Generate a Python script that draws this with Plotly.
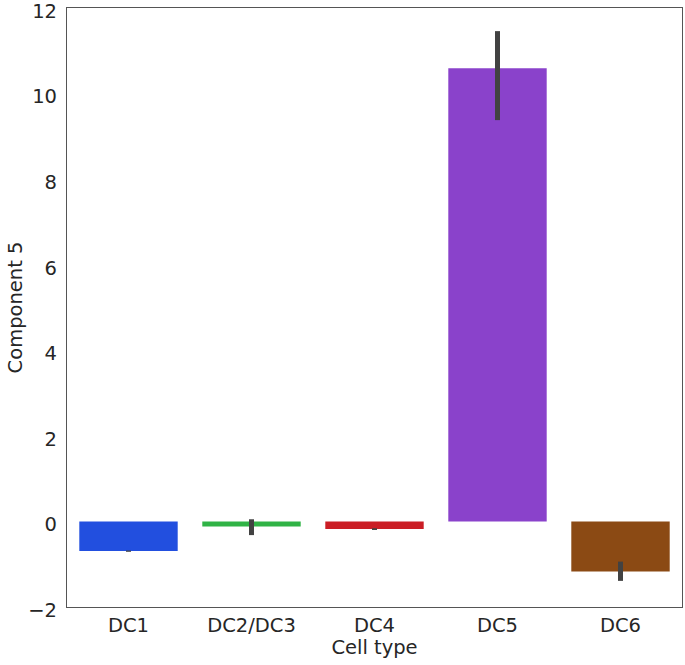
import plotly.graph_objects as go

categories = ["DC1", "DC2/DC3", "DC4", "DC5", "DC6"]
values = [-0.69, -0.12, -0.18, 10.59, -1.17]
ci_low = [-0.71, -0.32, -0.20, 9.38, -1.39]
ci_high = [-0.68, 0.05, -0.16, 11.46, -0.94]
colors = ["#224fdf", "#30b346", "#cb1d25", "#8a42cb", "#8b4a14"]
yticks = [-2, 0, 2, 4, 6, 8, 10, 12]

err_plus = [h - v for h, v in zip(ci_high, values)]
err_minus = [v - l for l, v in zip(ci_low, values)]

fig = go.Figure()
fig.add_trace(go.Bar(
    x=categories, y=values,
    marker=dict(color=colors, line=dict(width=0)),
    error_y=dict(type="data", symmetric=False, array=err_plus, arrayminus=err_minus,
                 color="#424242", thickness=5, width=0),
))

axis_font = dict(family="DejaVu Sans", size=19.5, color="#262626")
fig.update_layout(
    width=685, height=665,
    margin=dict(l=67, r=3, t=8, b=58, autoexpand=False),
    paper_bgcolor="white", plot_bgcolor="white",
    bargap=0.2, showlegend=False,
    font=axis_font,
)
fig.update_xaxes(
    range=[-0.5, 4.5], showline=True, linecolor="#555555", linewidth=1.2, mirror=True,
    showgrid=False, ticks="", tickfont=axis_font, automargin=False,
    title=dict(text="Cell type", font=axis_font, standoff=0),
)
fig.update_yaxes(
    range=[-2.0005, 12.0005], tickvals=yticks, showline=True, linecolor="#555555", linewidth=1.2, mirror=True,
    showgrid=False, zeroline=False, ticks="", tickfont=axis_font, automargin=False,
    ticklabeloverflow="allow", ticklabelshift=3, ticklabelstandoff=5,
    title=dict(text="Component 5", font=axis_font, standoff=0),
)
fig.write_html("out.html", config={"displayModeBar": False},
               post_script="document.body.style.margin='0';document.body.style.overflow='hidden';")
